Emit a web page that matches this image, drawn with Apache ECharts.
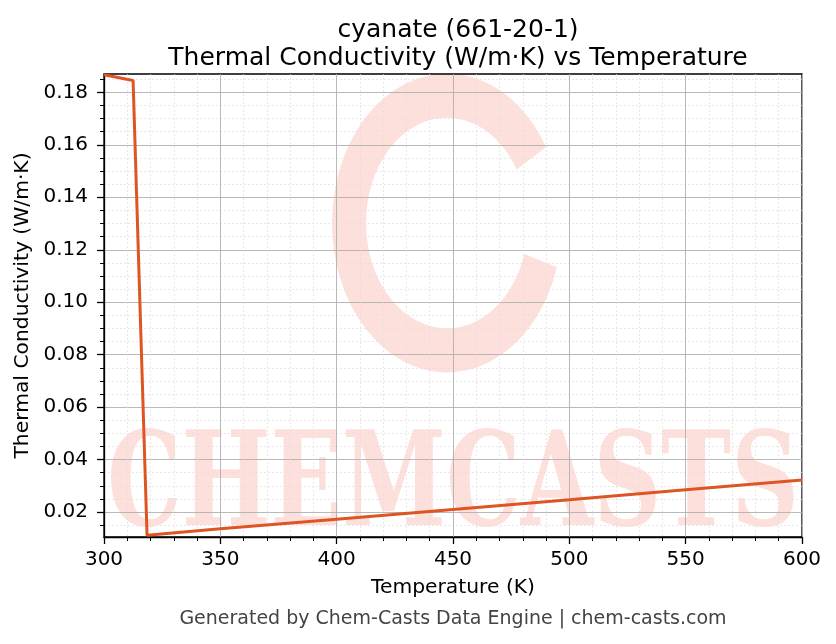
<!DOCTYPE html>
<html><head><meta charset="utf-8">
<script src="https://cdn.jsdelivr.net/npm/echarts@6/dist/echarts.min.js"></script>
<style>html,body{margin:0;padding:0;background:#fff}#c{width:836px;height:644px}</style>
</head><body><div id="c"></div>
<script>
var temperatures = [300, 312.5, 318.5, 350, 400, 450, 500, 550, 600];
var conductivity = [0.1867, 0.1845, 0.0112, 0.0136, 0.0173, 0.0210, 0.0247, 0.0285, 0.0322];
var yMajorTicks = [0.02, 0.04, 0.06, 0.08, 0.10, 0.12, 0.14, 0.16, 0.18];
var yMinorTicks = [0.015, 0.025, 0.03, 0.035, 0.045, 0.05, 0.055, 0.065, 0.07, 0.075, 0.085, 0.09, 0.095, 0.105, 0.11, 0.115, 0.125, 0.13, 0.135, 0.145, 0.15, 0.155, 0.165, 0.17, 0.175, 0.185];
var titleLines = ['cyanate (661-20-1)', 'Thermal Conductivity (W/m·K) vs Temperature'];
var xAxisName = 'Temperature (K)';
var yAxisName = 'Thermal Conductivity (W/m·K)';
var footer = 'Generated by Chem-Casts Data Engine | chem-casts.com';
var watermark = 'CHEMCASTS';

var data = temperatures.map(function (t, i) { return [t, conductivity[i]]; });
var font = 'DejaVu Sans';

// scale watermark text to span the plot width
var wmFont = 'bold 131px "DejaVu Serif"';
var cv = document.createElement('canvas').getContext('2d');
cv.font = wmFont;
var wmNatural = cv.measureText(watermark).width || 900;
var wmScale = 692 / wmNatural;

var chart = echarts.init(document.getElementById('c'), null, {renderer: 'canvas'});
chart.setOption({
  backgroundColor: '#fff',
  animation: false,
  textStyle: {fontFamily: font},
  title: {
    text: titleLines.join('\n'),
    left: 453, top: 11, textAlign: 'center',
    textStyle: {fontFamily: font, fontSize: 25, fontWeight: 'normal', color: '#000', lineHeight: 28}
  },
  graphic: [
    {type: 'arc', x: 447, y: 223, scaleY: 1.3, z: -10, silent: true,
     shape: {cx: 0, cy: 0, r: 98, startAngle: 0.3, endAngle: 5.75, clockwise: true},
     style: {stroke: '#fde0dc', lineWidth: 34, fill: null}},
    {type: 'text', x: 453, y: 491, scaleX: wmScale, z: -10, silent: true,
     style: {text: watermark, font: wmFont, fill: '#fde0dc', align: 'center', verticalAlign: 'middle'}},
    {type: 'text', x: 453, y: 619, silent: true,
     style: {text: footer, fontFamily: font, fontSize: 19, fill: '#444', align: 'center', verticalAlign: 'middle'}}
  ],
  grid: {left: 104, right: 34, top: 74, bottom: 107, show: true, borderColor: '#000', borderWidth: 1.3, backgroundColor: 'transparent'},
  xAxis: {
    type: 'value', min: 300, max: 600, interval: 50,
    name: xAxisName, nameLocation: 'middle', nameGap: 41,
    nameTextStyle: {fontFamily: font, fontSize: 20.3, color: '#000'},
    axisLine: {show: true, lineStyle: {color: '#000', width: 1.3}},
    axisTick: {show: true, length: 7, lineStyle: {color: '#000', width: 1.3}},
    axisLabel: {fontFamily: font, fontSize: 20, color: '#000', margin: 12.5},
    minorTick: {show: true, splitNumber: 5, length: 4, lineStyle: {color: '#000', width: 1}},
    splitLine: {show: true, lineStyle: {color: '#b0b0b0', width: 0.9}},
    minorSplitLine: {show: true, lineStyle: {color: '#dedede', width: 0.7, type: [2, 2]}}
  },
  yAxis: [{
    type: 'value', min: 0.0105, max: 0.187,
    name: yAxisName, nameLocation: 'middle', nameGap: 69,
    nameTextStyle: {fontFamily: font, fontSize: 20.3, color: '#000'},
    axisLine: {show: true, lineStyle: {color: '#000', width: 1.3}},
    axisTick: {show: true, length: 7, customValues: yMajorTicks, lineStyle: {color: '#000', width: 1.3}},
    axisLabel: {fontFamily: font, fontSize: 20, color: '#000', margin: 16, customValues: yMajorTicks,
      formatter: function (v) { return v.toFixed(2); }},
    splitLine: {show: true, lineStyle: {color: '#b0b0b0', width: 0.9}}
  }, {
    type: 'value', min: 0.0105, max: 0.187, position: 'left', offset: 0,
    axisLine: {show: false},
    axisTick: {show: true, length: 4, customValues: yMinorTicks, lineStyle: {color: '#000', width: 1}},
    axisLabel: {show: false, customValues: yMinorTicks},
    splitLine: {show: true, lineStyle: {color: '#dedede', width: 0.7, type: [2, 2]}}
  }],
  series: [{
    type: 'line', data: data, xAxisIndex: 0, yAxisIndex: 0, showSymbol: false, symbol: 'none',
    lineStyle: {color: '#dd5522', width: 3}, clip: true, z: 5
  }]
});
</script></body></html>
